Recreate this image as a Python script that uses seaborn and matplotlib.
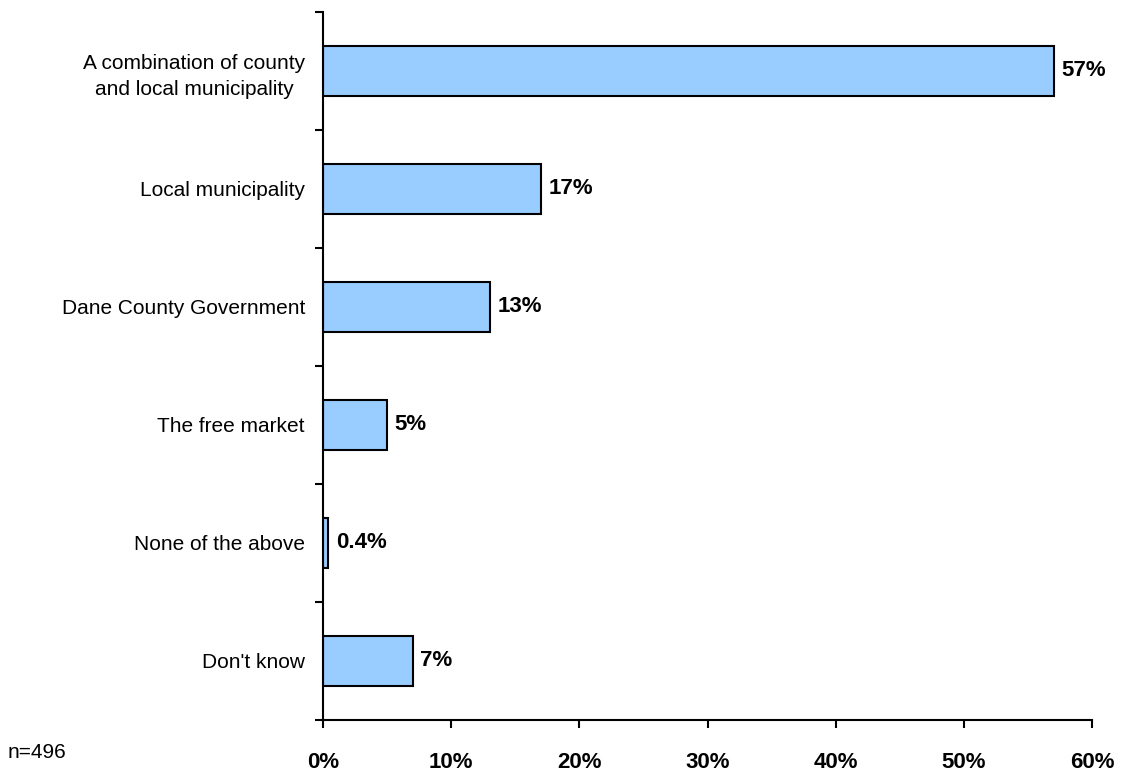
import matplotlib
matplotlib.use("Agg")
import matplotlib.pyplot as plt
import seaborn as sns
import pandas as pd
import numpy as np

# ── Data ─────────────────────────────────────────────────────────────────────

categories = [
    "A combination of county\nand local municipality",
    "Local municipality",
    "Dane County Government",
    "The free market",
    "None of the above",
    "Don't know",
]
shares = [57, 17, 13, 5, 0.4, 7]
x_ticks = [0, 10, 20, 30, 40, 50, 60]
note = "n=496"

# ── Style ────────────────────────────────────────────────────────────────────

sns.set_style("ticks")
plt.rcParams["font.family"] = ["Liberation Sans", "DejaVu Sans"]
plt.rcParams["text.color"] = "black"
plt.rcParams["xtick.color"] = "black"
plt.rcParams["ytick.color"] = "black"

BAR = "#99CCFF"

df = pd.DataFrame({"cat": categories, "val": shares})

fig = plt.figure(figsize=(11.23, 7.79), dpi=100)
ax = fig.add_axes([323 / 1123, 1 - 720 / 779, (1092 - 323) / 1123, (720 - 12) / 779])

sns.barplot(data=df, x="val", y="cat", orient="h", color=BAR,
            edgecolor="black", linewidth=1.5, width=0.42, saturation=1, ax=ax)

for i, v in enumerate(shares):
    lab = f"{v:.1f}%" if v < 1 else f"{v:.0f}%"
    ax.text(v + 0.6, i, lab, va="center", ha="left",
            fontsize=16, fontweight="bold", color="black")

ax.set_xlim(0, 60)
ax.set_ylim(5.5, -0.5)
ax.set_xticks(x_ticks)
ax.set_xticklabels([f"{t}%" for t in x_ticks], fontsize=16, fontweight="bold")
ax.tick_params(axis="x", length=6, width=1.5, pad=17, direction="out")

ax.set_yticks(range(len(categories)))
ax.set_yticklabels(categories, fontsize=15)
ax.tick_params(axis="y", which="major", length=0, pad=13)
ax.set_yticks(np.arange(-0.5, 6.0, 1.0), minor=True)
ax.tick_params(axis="y", which="minor", length=6, width=1.5, direction="out")
for t in ax.get_yticklabels():
    t.set_multialignment("center")
    t.set_linespacing(1.45)

ax.set_xlabel("")
ax.set_ylabel("")
for s in ["top", "right"]:
    ax.spines[s].set_visible(False)
for s in ["left", "bottom"]:
    ax.spines[s].set_linewidth(1.5)
    ax.spines[s].set_color("black")
ax.grid(False)

fig.text(8 / 1123, 1 - 752 / 779, note, fontsize=15, va="center", ha="left")

fig.savefig("out.png", dpi=100)
